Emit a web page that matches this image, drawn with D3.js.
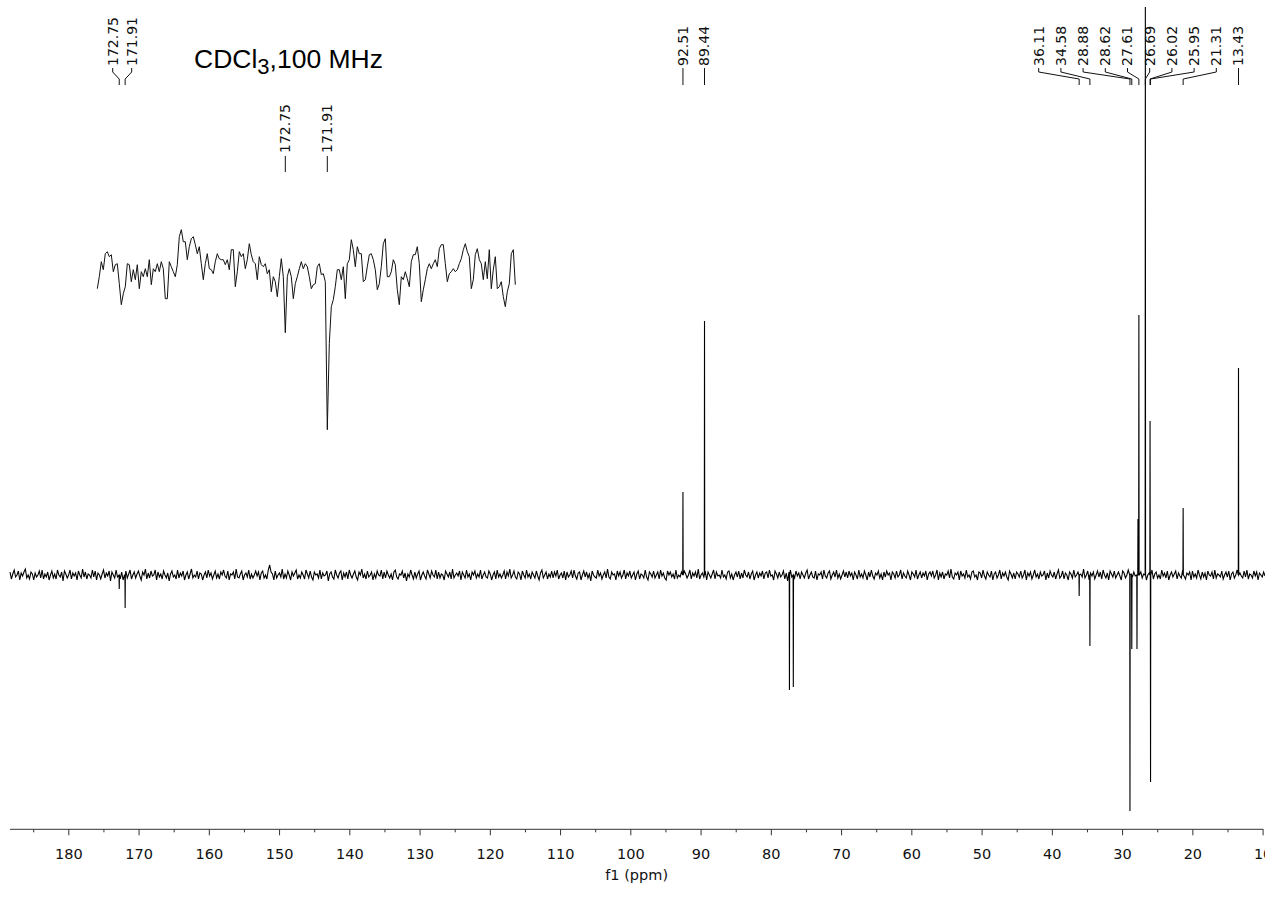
<!DOCTYPE html>
<html>
<head>
<meta charset="utf-8">
<script src="https://cdn.jsdelivr.net/npm/d3@7"></script>
<style>
  html, body { margin: 0; padding: 0; background: #fff; }
  svg { display: block; }
</style>
</head>
<body>
<script>
// ---------------- DATA ----------------
// Axis ticks (ppm)
const majorTicks = [180, 170, 160, 150, 140, 130, 120, 110, 100, 90, 80, 70, 60, 50, 40, 30, 20, 10];
const minorTicks = [185, 175, 165, 155, 145, 135, 125, 115, 105, 95, 85, 75, 65, 55, 45, 35, 25, 15];

// Peaks of main spectrum (ppm, intensity; negative = inverted APT signal)
const peakPpm = [172.75, 171.91, 92.51, 89.44, 77.35, 76.80, 36.11, 34.58, 28.88, 28.62, 27.88, 27.74, 27.61, 26.69, 26.02, 25.95, 21.31, 13.43];
const peakInt = [-14, -33, 83, 254, -115, -112, -21, -71, -236, -74, -74, 56, 260, 568, 154, -207, 67, 207];

// Baseline noise of main spectrum (evenly spaced from 188.3 to 9.65 ppm)
const noise = [
 3,-4,1,5,-2,0,4,-5,2,-1,3,6,-3,0,-4,3,1,-5,2,-2,0,4,-3,5,-4,1,-2,3,-5,0,
 4,-3,1,-4,5,0,-2,3,-6,4,1,-3,0,5,-4,2,-1,2,-5,4,0,-3,6,-2,3,-4,1,0,-3,5,
 -2,4,-5,2,0,-4,1,5,-3,2,-1,4,-6,3,0,-3,5,-2,1,-4,3,-5,0,4,-3,1,5,-4,0,3,
 -3,1,4,-1,-5,3,0,6,-4,2,-3,4,-1,0,5,-5,3,-2,1,-4,4,0,-3,2,-6,1,4,-2,0,-4,
 5,-3,2,-1,4,-5,0,3,-4,1,6,-3,0,-2,4,-4,2,1,-5,0,3,-3,5,-1,2,-4,0,4,-3,1,
 -4,3,0,5,-1,-3,4,-5,1,0,3,-4,6,-2,-3,1,4,-5,0,2,-2,5,-4,1,-3,0,4,-1,3,-5,
 2,4,-3,0,-4,5,10,3,1,-5,4,-3,0,2,-2,6,-4,1,-3,4,0,-5,3,-1,2,5,-4,0,-3,3,
 0,-4,5,1,-3,4,-2,-5,3,0,1,-3,5,-4,2,-1,0,4,-6,1,3,-2,-4,5,0,-3,2,4,-5,2,
 -2,3,-4,5,0,-3,1,4,-2,-5,3,0,6,-3,1,-4,4,-2,0,3,-5,1,-3,4,0,-1,5,-4,3,-3,
 4,0,-3,1,-5,3,5,-2,-4,1,0,4,-3,2,-6,1,-2,5,0,-4,3,-3,1,4,-5,0,3,-1,-4,5,
 1,-3,4,0,-2,5,-4,3,-3,1,0,-5,4,1,-2,3,-4,6,-3,0,2,-1,4,-5,3,0,-3,5,-2,1,
 -5,3,0,4,-3,1,-2,5,-4,0,3,-2,-3,4,1,-5,0,3,-4,5,-2,1,-3,0,4,-4,3,-1,6,-3,
 0,4,-2,-4,3,1,-5,4,0,-3,5,-2,1,-4,3,0,-3,4,-1,-5,2,5,-3,0,3,-4,1,-2,4,-3,
 3,-1,5,-4,0,2,-3,4,-5,3,-2,0,4,-3,5,-1,-4,2,3,-5,0,4,-2,3,-3,1,-6,4,0,-2,
 -3,5,-1,2,-4,0,3,-3,6,-2,-4,3,0,1,-5,4,-1,3,-3,0,5,-4,2,-1,4,-3,0,3,-5,1,
 4,-4,1,0,-3,5,-2,-5,3,1,-2,4,-3,0,3,-4,5,-1,2,-3,-5,4,0,3,-2,1,-4,5,-3,0,
 -2,3,-5,4,1,-3,0,5,-4,2,-1,3,-3,6,-4,0,2,-2,4,-5,3,0,-3,1,5,-4,3,-1,0,-3,
 5,-2,0,-4,3,4,-3,1,-5,0,3,-2,4,-4,2,-3,5,0,-2,3,-4,1,4,-5,0,3,-3,2,-1,4,
 -4,2,3,-3,5,-1,0,-5,4,1,-3,3,-2,0,4,-4,2,-6,3,5,-2,0,-3,4,-1,2,-4,3,0,-3,
 2,5,-4,0,3,-2,-3,4,-5,1,0,3,-4,5,-1,-3,2,4,-4,0,3,-2,5,-3,1,-4,0,4,-2,3,
 -3,4,-1,2,-5,3,0,-4,5,-2,1,-3,4,0,-5,3,-2,5,-1,-4,2,0,4,-3,1,-5,3,-2,4,0,
 2,-5,3,1,-3,4,-2,0,5,-4,2,-1,-3,4,0,-5,3,1,-2,5,-4,0,3,-3,2,-1,4,-5,1,3,
 -1,4,-3,0,5,-5,2,-2,3,-4,1,0,4,-3,6,-2,-4,2,0,3,-5,4,-1,1,-3,5,-2,0,-4,3,
 4,-2,0,-5,3,2,-3,5,-1,-4,3,0,-2,4,-5,1,3,-3,0,5,-4,2,-1,3,-2,-5,4,1,-3,2,
 -4,3,1,-2,4,-3,0,5,-5,2,-1,3,-4,0,5,-2,1,-4,3,-1,0,4,-5,2,-3,4,0,-2,3,-4,
 1,5,-3,-1,4,-4,2,0,-5,3,1,-3,5,-2,0,3,-4,1,-2,6,-3,0,4,-5,2,-1,3,-4,0,4,
 -2,3,-4,5,0,-3,2,-5,4,1,-2,4,-3,0,3,-1,-5,4,2,-3,0,5,-4,1,-2,3,-1,-4,5,0,
 3,-3,1,4,-5,0,2,-2,5,-4,1,3,-3,0,-4,5,-1,2,-3,4,-5,0,3,-2,1,4,-4,2,-1,-3,
 5,-1,-4,2,0,3,-5,4,-2,1,-3,5,0,-4,3,-2,2,-5,4,0,-1,3,-4,5,-3,1,0,-2,4,-4,
 0,3,-2,4,-5,1,3,-3,0,5,-4,2,-1,-3,4,-2,5,-4,1,0,-3,4,-1,3,-5,2,0,-2,3,-1
];

// Inset: expansion 176.51 -> 168.15 ppm (evenly spaced)
const insetValues = [
 -12,0,15,7,23,25,20,22,5,12,13,-7,-28,-17,-10,13,12,-5,7,-3,
 12,-12,5,0,8,0,17,-8,8,5,13,5,15,8,-22,-22,15,10,5,0,
 12,40,47,35,35,17,30,38,40,32,23,30,13,-3,13,23,8,7,3,15,
 23,18,17,17,12,17,7,27,27,-10,5,25,20,23,8,17,33,22,15,13,
 -3,20,12,10,13,3,7,-15,0,-5,-20,0,18,0,-56,0,8,0,-22,-7,
 0,8,15,8,13,10,0,-12,-8,-7,10,13,2,3,-5,-153,-67,-30,-23,-10,
 7,7,-3,10,-22,13,17,37,27,10,30,23,23,-5,-3,10,22,23,17,7,
 -13,-7,10,33,38,0,0,5,17,12,-13,-28,0,-3,5,-2,-10,15,22,22,
 30,13,-25,-13,-3,8,13,8,13,17,10,28,32,32,13,-5,3,5,8,5,
 7,13,18,27,33,25,20,-12,-3,22,28,17,13,-3,15,-2,27,-12,7,20,
 -12,-10,-5,-20,-30,-15,-7,23,27,-8
];
const insetStartPpm = 176.51, insetEndPpm = 168.15;

// Peak labels
const labelsLeft  = ["172.75", "171.91"];
const labelsMid   = ["92.51", "89.44"];
const labelsRight = ["36.11", "34.58", "28.88", "28.62", "27.61", "26.69", "26.02", "25.95", "21.31", "13.43"];
const labelsInset = ["172.75", "171.91"];

// ---------------- DRAWING ----------------
const W = 1265, H = 900;
const svg = d3.select("body").append("svg").attr("width", W).attr("height", H);

const x = d3.scaleLinear().domain([188.3, 9.9]).range([10, 1263.3]);
const y = d3.scaleLinear().domain([-260, 575]).range([835, 0]);

// main spectrum
const startPpm = 188.3, endPpm = 9.65;
const step = (startPpm - endPpm) / (noise.length - 1);
const hw = 0.03;
let pts = noise.map((v, i) => [startPpm - i * step, v])
  .filter(d => !peakPpm.some(p => Math.abs(d[0] - p) < 0.06));
peakPpm.forEach((p, i) => { pts.push([p + hw, 0], [p, peakInt[i]], [p - hw, 0]); });
pts.sort((a, b) => b[0] - a[0]);

const line = d3.line().x(d => x(d[0])).y(d => y(d[1]));
svg.append("path").datum(pts).attr("d", line)
  .attr("fill", "none").attr("stroke", "#000").attr("stroke-width", 1.1);

// axis
const axisY = 829.3;
const gAxis = svg.append("g").attr("transform", `translate(0,${axisY})`)
  .call(d3.axisBottom(x).tickValues(majorTicks).tickSize(6).tickPadding(13).tickFormat(d3.format("d")));
gAxis.select(".domain").attr("stroke", "#333").attr("d", `M${x.range()[0]},0H${x.range()[1]}`);
gAxis.selectAll(".tick line").attr("stroke", "#333");
gAxis.selectAll(".tick text").attr("font-family", "DejaVu Sans, Verdana, sans-serif")
  .attr("font-size", 14.5).attr("fill", "#111");
const gMinor = svg.append("g").attr("transform", `translate(0,${axisY})`)
  .call(d3.axisBottom(x).tickValues(minorTicks).tickSize(3).tickFormat(""));
gMinor.select(".domain").remove();
gMinor.selectAll(".tick line").attr("stroke", "#333");

svg.append("text").attr("x", (x.range()[0] + x.range()[1]) / 2).attr("y", 880)
  .attr("text-anchor", "middle").attr("font-family", "DejaVu Sans, Verdana, sans-serif")
  .attr("font-size", 14.5).attr("fill", "#111").text("f1 (ppm)");

// solvent / frequency note
const note = svg.append("text").attr("x", 194).attr("y", 68)
  .attr("font-family", "Liberation Sans, Arial, sans-serif").attr("font-size", 26.5).attr("fill", "#000");
note.append("tspan").text("CDCl");
note.append("tspan").attr("dy", 6).attr("font-size", 22).text("3");
note.append("tspan").attr("dy", -6).text(",100 MHz");

// label helpers
function layout(px, mode, gap) {
  const n = px.length;
  if (mode === "peak") return px.slice();
  if (mode === "center") { const m = d3.mean(px); return px.map((_, i) => m + (i - (n - 1) / 2) * gap); }
  const r = px[n - 1];
  return px.map((_, i) => r - (n - 1 - i) * gap);
}
function drawLabels(labels, scale, mode, gap, textY, lineTop, bend1, bend2, lineBottom) {
  const px = labels.map(s => scale(+s));
  const lx = layout(px, mode, gap);
  const g = svg.append("g");
  labels.forEach((s, i) => {
    g.append("text")
      .attr("transform", `translate(${lx[i]},${textY}) rotate(-90)`)
      .attr("dy", "0.35em").attr("text-anchor", "start")
      .attr("font-family", "DejaVu Sans, Verdana, sans-serif").attr("font-size", 14)
      .attr("fill", "#111").text(s);
    const p = Math.abs(lx[i] - px[i]) < 0.6
      ? `M${px[i]},${lineTop}V${lineBottom}`
      : `M${lx[i]},${lineTop}V${bend1}L${px[i]},${bend2}V${lineBottom}`;
    g.append("path").attr("d", p).attr("fill", "none").attr("stroke", "#111").attr("stroke-width", 1);
  });
}
drawLabels(labelsLeft, x, "center", 19, 66, 68, 72, 79, 85);
drawLabels(labelsMid, x, "peak", 0, 66, 68, 72, 79, 85);
drawLabels(labelsRight, x, "right", 22.2, 66, 68, 72, 79, 85);

// inset
const xi = d3.scaleLinear().domain([insetStartPpm, insetEndPpm]).range([97.3, 515.3]);
const yi = d3.scaleLinear().domain([-160, 60]).range([436.7, 216.7]);
const istep = (insetStartPpm - insetEndPpm) / (insetValues.length - 1);
const ipts = insetValues.map((v, i) => [insetStartPpm - i * istep, v]);
svg.append("path").datum(ipts)
  .attr("d", d3.line().x(d => xi(d[0])).y(d => yi(d[1])))
  .attr("fill", "none").attr("stroke", "#111").attr("stroke-width", 1);
drawLabels(labelsInset, xi, "peak", 0, 153, 156, 160, 166, 172);
</script>
</body>
</html>
